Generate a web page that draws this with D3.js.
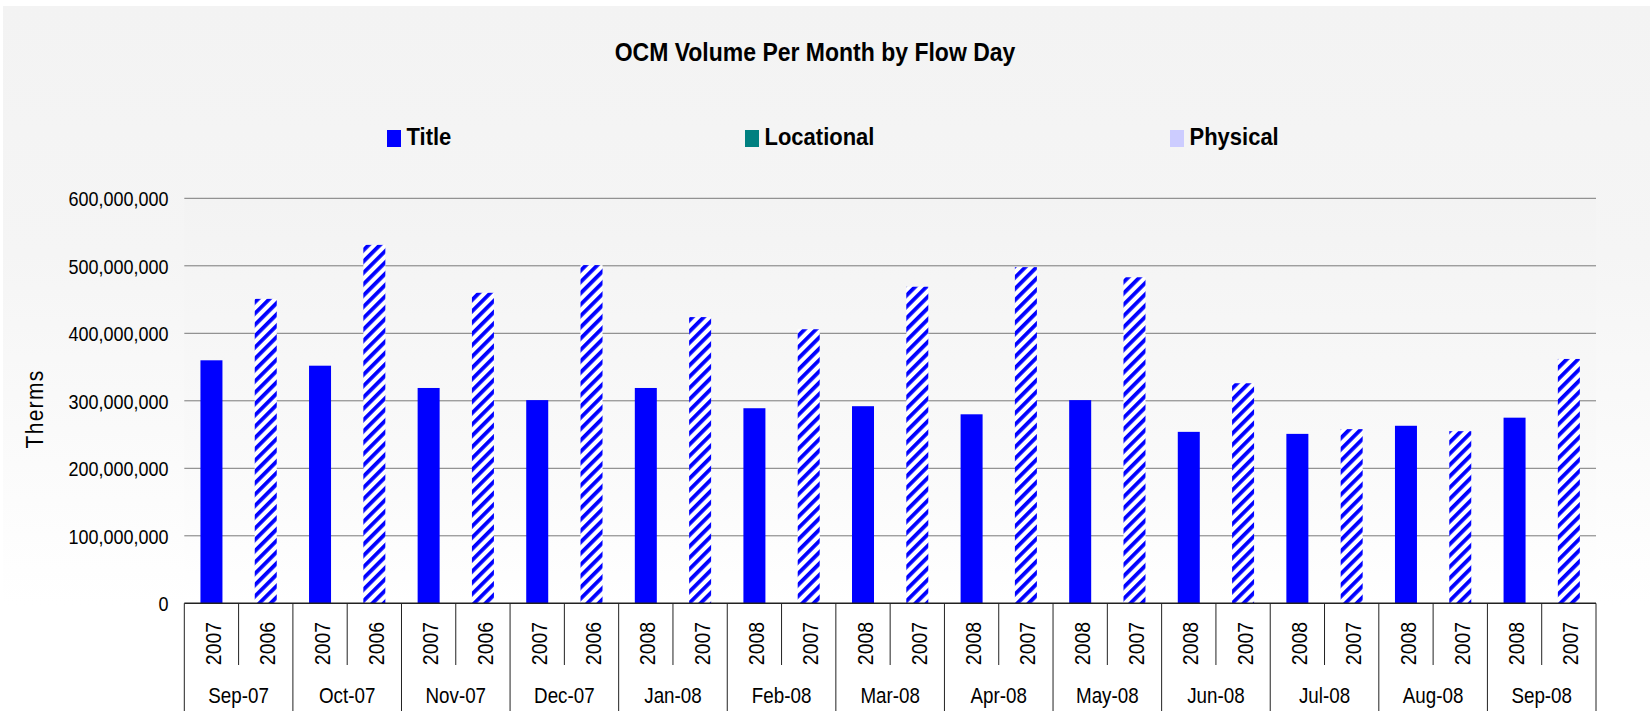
<!DOCTYPE html>
<html>
<head>
<meta charset="utf-8">
<script src="https://cdn.jsdelivr.net/npm/d3@7"></script>
<style>
  html, body { margin: 0; padding: 0; background: #ffffff; }
  svg { display: block; }
  text { font-family: "Liberation Sans", Arial, sans-serif; fill: #000; }
</style>
</head>
<body>
<svg id="chart" width="1650" height="711"></svg>
<script>
// ---- data ----
const months = ["Sep-07","Oct-07","Nov-07","Dec-07","Jan-08","Feb-08","Mar-08","Apr-08","May-08","Jun-08","Jul-08","Aug-08","Sep-08"];
const currentYears = ["2007","2007","2007","2007","2008","2008","2008","2008","2008","2008","2008","2008","2008"];
const priorYears   = ["2006","2006","2006","2006","2007","2007","2007","2007","2007","2007","2007","2007","2007"];
const currentValues = [360000000,352000000,319000000,301000000,319000000,289000000,292000000,280000000,301000000,254000000,251000000,263000000,275000000];
const priorValues   = [451000000,531000000,460000000,501000000,424000000,406000000,469000000,498000000,483000000,326000000,258000000,255000000,362000000];
const yTicks = [0,100000000,200000000,300000000,400000000,500000000,600000000];
const legendLabels = ["Title","Locational","Physical"];
const legendColors = ["#0000ff","#008080","#ccccff"];
const chartTitle = "OCM Volume Per Month by Flow Day";
const yTitle = "Therms";

// ---- layout ----
const svg = d3.select("#chart");
const plotLeft = 184.3, plotRight = 1596, plotTop = 198.3, plotBottom = 603.3;

const defs = svg.append("defs");
const bg = defs.append("linearGradient").attr("id","bgGrad").attr("x1",0).attr("y1",0).attr("x2",0).attr("y2",1);
bg.append("stop").attr("offset","0%").attr("stop-color","#f3f3f3");
bg.append("stop").attr("offset","35%").attr("stop-color","#f5f5f5");
bg.append("stop").attr("offset","85%").attr("stop-color","#ffffff");
bg.append("stop").attr("offset","100%").attr("stop-color","#ffffff");
const pg = defs.append("linearGradient").attr("id","plotGrad").attr("x1",0).attr("y1",0).attr("x2",0).attr("y2",1);
pg.append("stop").attr("offset","0%").attr("stop-color","#f3f3f3");
pg.append("stop").attr("offset","60%").attr("stop-color","#f9f9f9");
pg.append("stop").attr("offset","100%").attr("stop-color","#ffffff");

const hatch = defs.append("pattern").attr("id","hatch")
  .attr("patternUnits","userSpaceOnUse").attr("width",8).attr("height",8)
  .attr("patternTransform","rotate(45)");
hatch.append("rect").attr("width",8).attr("height",8).attr("fill","#ffffff");
hatch.append("rect").attr("x",0).attr("width",3.8).attr("height",8).attr("fill","#0000ff");

svg.append("rect").attr("x",3).attr("y",6).attr("width",1647).attr("height",705).attr("fill","url(#bgGrad)");
svg.append("rect").attr("x",plotLeft).attr("y",plotTop).attr("width",plotRight-plotLeft).attr("height",plotBottom-plotTop).attr("fill","url(#plotGrad)");

// ---- scales ----
const y = d3.scaleLinear().domain([0,600000000]).range([plotBottom,plotTop]);
const x = d3.scaleBand().domain(months).range([plotLeft,plotRight]).paddingInner(0).paddingOuter(0);
const sub = d3.scaleBand().domain(["cur","prior"]).range([0,x.bandwidth()]);
const barW = 22;

// gridlines
svg.append("g").selectAll("line").data(yTicks.filter(d => d > 0)).join("line")
  .attr("x1",plotLeft).attr("x2",plotRight)
  .attr("y1",d => y(d)).attr("y2",d => y(d))
  .attr("stroke","#7a7a7a").attr("stroke-width",1);

// y axis labels via d3 axis
const yAxis = d3.axisLeft(y).tickValues(yTicks).tickFormat(d3.format(",")).tickSize(0).tickPadding(0);
const yg = svg.append("g").attr("transform",`translate(168.5,0)`).call(yAxis);
yg.select(".domain").remove();
yg.selectAll("text")
  .attr("x",0).attr("dy",null)
  .attr("y",0)
  .attr("font-size","18px")
  .attr("font-family","Liberation Sans, Arial, sans-serif")
  .attr("fill","#000")
  .attr("text-anchor","end")
  .attr("transform", function() { return "translate(0,7.3) scale(1,1.13)"; });

// bars
const bars = svg.append("g");
bars.selectAll("rect.cur").data(months).join("rect").attr("class","cur")
  .attr("x",(m) => x(m) + sub("cur") + sub.bandwidth()/2 - barW/2)
  .attr("width",barW)
  .attr("y",(m,i) => y(currentValues[i]))
  .attr("height",(m,i) => y(0) - y(currentValues[i]))
  .attr("fill","#0000ff");
bars.selectAll("rect.prior").data(months).join("rect").attr("class","prior")
  .attr("x",(m) => x(m) + sub("prior") + sub.bandwidth()/2 - barW/2)
  .attr("width",barW)
  .attr("y",(m,i) => y(priorValues[i]))
  .attr("height",(m,i) => y(0) - y(priorValues[i]))
  .attr("fill","url(#hatch)");

// x axis structure
const ax = svg.append("g");
ax.append("line").attr("x1",plotLeft).attr("x2",plotRight).attr("y1",plotBottom).attr("y2",plotBottom)
  .attr("stroke","#222").attr("stroke-width",1.5);
const groupEdges = months.map(m => x(m)).concat([plotRight]);
ax.selectAll("line.grp").data(groupEdges).join("line").attr("class","grp")
  .attr("x1",d => d).attr("x2",d => d).attr("y1",plotBottom).attr("y2",711)
  .attr("stroke","#222").attr("stroke-width",1);
ax.selectAll("line.inner").data(months).join("line").attr("class","inner")
  .attr("x1",m => x(m) + sub("prior")).attr("x2",m => x(m) + sub("prior"))
  .attr("y1",plotBottom).attr("y2",665)
  .attr("stroke","#222").attr("stroke-width",1);

// year labels
const yearG = svg.append("g");
function yearLabel(m, label, key) {
  const cx = x(m) + sub(key) + sub.bandwidth()/2 + 1.5;
  yearG.append("text")
    .attr("transform",`translate(${cx},643.5) rotate(-90) scale(1,1.15)`)
    .attr("text-anchor","middle").attr("dy","0.36em")
    .attr("font-size","19.5px").text(label);
}
months.forEach((m,i) => { yearLabel(m, currentYears[i], "cur"); yearLabel(m, priorYears[i], "prior"); });

// month labels
svg.append("g").selectAll("text").data(months).join("text")
  .attr("transform",m => `translate(${x(m) + x.bandwidth()/2},703.3) scale(1,1.15)`)
  .attr("text-anchor","middle").attr("font-size","18.8px").text(m => m);

// y title
svg.append("text")
  .attr("transform","translate(34.5,409) rotate(-90) scale(1,1.12)")
  .attr("text-anchor","middle").attr("dy","0.36em")
  .attr("font-size","21px").attr("letter-spacing","1.3px").text(yTitle);

// title
svg.append("text")
  .attr("transform","translate(815,60.5) scale(1,1.09)")
  .attr("text-anchor","middle").attr("font-size","23px").attr("font-weight","bold").text(chartTitle);

// legend
const legendX = [387, 745, 1170];
const lg = svg.append("g");
legendLabels.forEach((lab,i) => {
  lg.append("rect").attr("x",legendX[i]).attr("y",130).attr("width",14).attr("height",17).attr("fill",legendColors[i]);
  lg.append("text").attr("transform",`translate(${legendX[i]+19.5},144.5) scale(1,1.12)`)
    .attr("font-size","22px").attr("font-weight","bold").text(lab);
});
</script>
</body>
</html>
